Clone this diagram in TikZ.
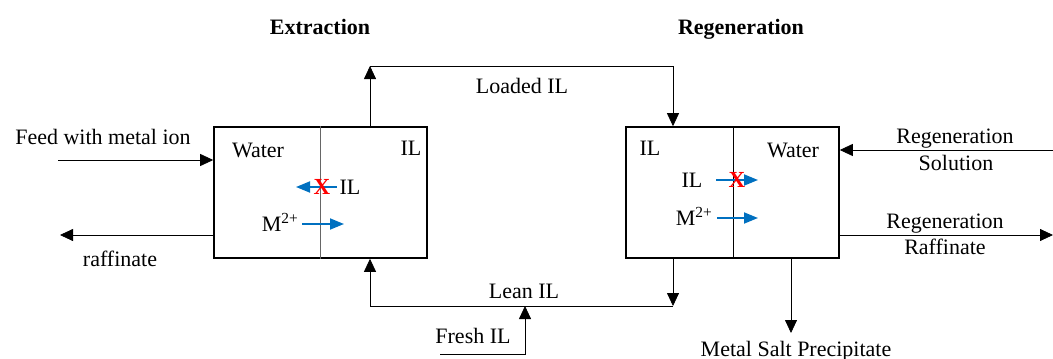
\documentclass[tikz,border=0pt]{standalone}
\usepackage{fontspec}
\setmainfont{Liberation Serif}
\usetikzlibrary{arrows.meta}
\definecolor{ionblue}{RGB}{0,112,192}

\tikzset{
    unit/.style={draw, line width=1.6pt, minimum width=213pt, minimum height=131pt, inner sep=0pt},
    flow/.style={line width=0.8pt, -{Triangle[length=13pt,width=12pt]}},
    lbl/.style={inner sep=0pt, font=\fontsize{22}{26}\selectfont, text height=14.6pt, text depth=0pt},
    ttl/.style={lbl, font=\fontsize{22}{26}\selectfont\bfseries},
    ion/.style={draw=ionblue, line width=1.8pt, -{Triangle[length=14pt,width=11pt]}},
    blocked/.style={lbl, text=red, font=\fontsize{23}{26}\selectfont\bfseries}
}

\begin{document}
\begin{tikzpicture}[x=1pt,y=-1pt]
    \useasboundingbox (0,0) rectangle (1053,359);

    % the two units
    \node[unit] (ext) at (320.5,192.5) {};
    \node[unit] (reg) at (732.5,192.5) {};
    \draw[black!60, line width=0.8pt] (ext.north) -- (ext.south);
    \draw[line width=0.8pt] (reg.north -| 733,0) -- (reg.south -| 733,0);

    \node[ttl] (exttitle) at (320,27) {Extraction};
    \node[ttl] (regtitle) at (741,27) {Regeneration};

    % extraction unit
    \node[lbl] (extwater) at (258,150) {Water};
    \node[lbl] (extil) at (411,148) {IL};
    \node[lbl] (extilion) at (350,187) {IL};
    \node[lbl] (extmion) at (280,224) {M\textsuperscript{2+}};
    \coordinate (extila) at (337,187);
    \coordinate (extilb) at (296,187);
    \coordinate (extma) at (302,224);
    \coordinate (extmb) at (344,224);
    \draw[ion] (extila) -- (extilb);
    \draw[ion] (extma) -- (extmb);
    \node[blocked] (extx) at (322,187) {X};

    % regeneration unit
    \node[lbl] (regil) at (650,148) {IL};
    \node[lbl] (regwater) at (793,150) {Water};
    \node[lbl] (regilion) at (692,180) {IL};
    \node[lbl] (regmion) at (694,218) {M\textsuperscript{2+}};
    \coordinate (regila) at (716,180);
    \coordinate (regilb) at (758,180);
    \coordinate (regma) at (717,218);
    \coordinate (regmb) at (758,218);
    \draw[ion] (regila) -- (regilb);
    \draw[ion] (regma) -- (regmb);
    \node[blocked] (regx) at (737,180) {X};

    % feed and raffinate
    \node[lbl] (feed) at (103,137) {Feed with metal ion};
    \coordinate (feedin) at (58,160);
    \draw[flow] (feedin) -- (feedin -| ext.west);
    \node[lbl] (raff) at (120,259) {raffinate};
    \coordinate (raffout) at (60,235);
    \draw[flow] (raffout -| ext.west) -- (raffout);

    % loaded IL loop
    \coordinate (loadup) at (370,66);
    \coordinate (loaddown) at (673,66);
    \node[lbl] (loaded) at (522,86) {Loaded IL};
    \draw[flow] (loadup |- ext.north) -- (loadup);
    \draw[flow] (loadup) -- (loaddown) -- (loaddown |- reg.north);

    % lean IL loop
    \coordinate (leandown) at (673,306);
    \coordinate (leanup) at (370,306);
    \node[lbl] (lean) at (524,291) {Lean IL};
    \draw[flow] (leandown |- reg.south) -- (leandown);
    \draw[flow] (leandown) -- (leanup) -- (leanup |- ext.south);

    % fresh IL make-up
    \coordinate (freshin) at (440,354);
    \coordinate (freshup) at (525,354);
    \node[lbl] (fresh) at (473,336) {Fresh IL};
    \draw[flow] (freshin) -- (freshup) -- (freshup |- leanup);

    % regeneration streams
    \coordinate (solin) at (1053,150);
    \node[lbl] (sol1) at (955,136) {Regeneration};
    \node[lbl] (sol2) at (956,163) {Solution};
    \draw[flow] (solin) -- (solin -| reg.east);
    \coordinate (rraffout) at (1053,235);
    \node[lbl] (rraff1) at (945,221) {Regeneration};
    \node[lbl] (rraff2) at (945,247) {Raffinate};
    \draw[flow] (rraffout -| reg.east) -- (rraffout);
    \coordinate (salt) at (791,333);
    \node[lbl] (saltlbl) at (796,349) {Metal Salt Precipitate};
    \draw[flow] (salt |- reg.south) -- (salt);
\end{tikzpicture}
\end{document}
